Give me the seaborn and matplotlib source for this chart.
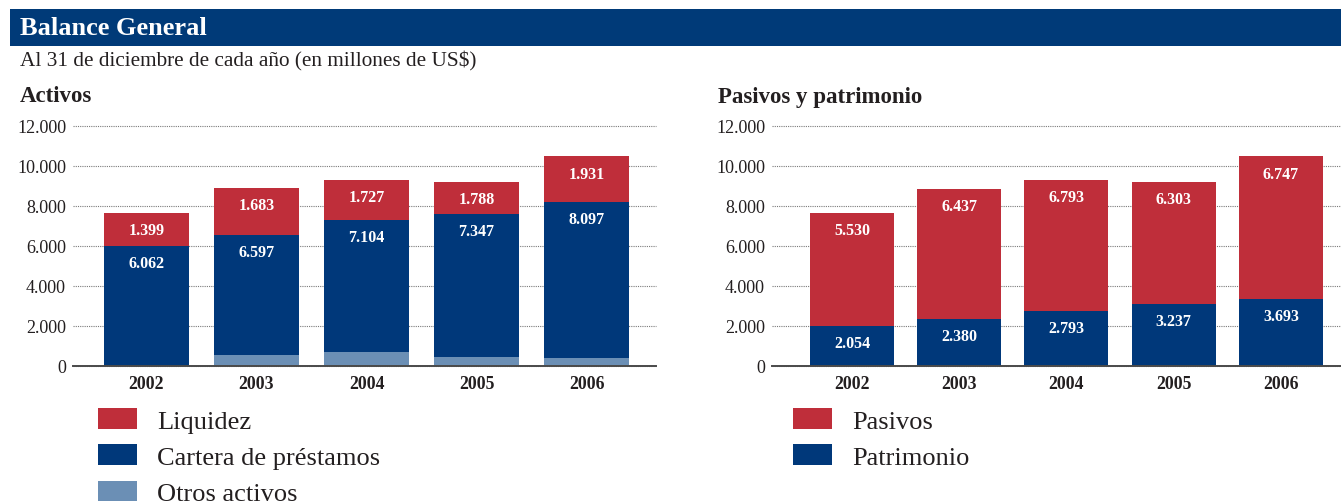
import matplotlib
matplotlib.use("Agg")
import matplotlib.pyplot as plt
from matplotlib.patches import Rectangle, Patch
import seaborn as sns

# ---------------- data ----------------
years = ["2002", "2003", "2004", "2005", "2006"]

# Activos (segment heights as drawn, millones de US$)
otros_activos = [0, 520, 670, 420, 370]
cartera = [5966, 6001, 6607, 7160, 7815]
liquidez = [1664, 2370, 2017, 1613, 2269]
cartera_labels = ["6.062", "6.597", "7.104", "7.347", "8.097"]
liquidez_labels = ["1.399", "1.683", "1.727", "1.788", "1.931"]

# Pasivos y patrimonio
patrimonio = [1983, 2336, 2739, 3092, 3345]
pasivos = [5647, 6504, 6555, 6101, 7109]
patrimonio_labels = ["2.054", "2.380", "2.793", "3.237", "3.693"]
pasivos_labels = ["5.530", "6.437", "6.793", "6.303", "6.747"]

y_ticks = [0, 2000, 4000, 6000, 8000, 10000, 12000]
y_tick_labels = ["0", "2.000", "4.000", "6.000", "8.000", "10.000", "12.000"]

title = "Balance General"
subtitle = "Al 31 de diciembre de cada año (en millones de US$)"
left_title = "Activos"
right_title = "Pasivos y patrimonio"
left_legend = ["Liquidez", "Cartera de préstamos", "Otros activos"]
right_legend = ["Pasivos", "Patrimonio"]

# ---------------- style ----------------
RED = "#BF2E3A"
DARK = "#00387A"
LIGHT = "#6B8FB5"
BANNER = "#003A78"
TXT = "#231F20"

sns.set_theme(style="white")
plt.rcParams["font.family"] = ["Liberation Serif", "DejaVu Serif"]

W, H = 1341, 502
fig = plt.figure(figsize=(W / 100, H / 100), dpi=100)

# banner
fig.patches.append(Rectangle((10 / W, 1 - 47 / H), 1 - 10 / W, 37 / H,
                             transform=fig.transFigure, facecolor=BANNER,
                             edgecolor="none", zorder=0))
fig.text(20 / W, 1 - 28.5 / H, title, color="white", fontsize=19,
         fontweight="bold", va="center", ha="left")
fig.text(20 / W, 1 - 61 / H, subtitle, color=TXT, fontsize=15.3,
         va="center", ha="left")
fig.text(20 / W, 1 - 97 / H, left_title, color=TXT, fontsize=16.5,
         fontweight="bold", va="center", ha="left")
fig.text(718 / W, 1 - 97 / H, right_title, color=TXT, fontsize=16.5,
         fontweight="bold", va="center", ha="left")

y0 = 366.5
ytop = 126.5
ax1 = fig.add_axes([73 / W, (H - y0) / H, (656 - 73) / W, (y0 - ytop) / H])
ax2 = fig.add_axes([772 / W, (H - y0) / H, (W - 772) / W, (y0 - ytop) / H])


def cum(*arrs):
    out = []
    run = [0] * len(arrs[0])
    for a in arrs:
        run = [r + v for r, v in zip(run, a)]
        out.append(run)
    return out


def style_axis(ax, xlim):
    ax.set_ylim(0, 12000)
    ax.set_xlim(*xlim)
    ax.set_yticks(y_ticks)
    ax.set_yticklabels(y_tick_labels)
    ax.set_xlabel("")
    ax.set_ylabel("")
    for s in ["top", "left", "right"]:
        ax.spines[s].set_visible(False)
    ax.spines["bottom"].set_color("#4a4a4a")
    ax.spines["bottom"].set_linewidth(1.4)
    ax.spines["bottom"].set_zorder(5)
    ax.set_axisbelow(True)
    ax.yaxis.grid(True, linestyle=(0, (1, 1)), color="#7a7a7a", linewidth=0.8)
    for gl in ax.get_ygridlines():
        gl.set_clip_on(False)
    ax.tick_params(axis="y", length=0, pad=5, labelsize=13, labelcolor=TXT)
    ax.tick_params(axis="x", length=0, pad=7, labelsize=12.8, labelcolor=TXT)
    for t in ax.get_xticklabels():
        t.set_fontweight("bold")
    ax.patch.set_alpha(0)


def label(ax, tops, texts):
    for i, (t, s) in enumerate(zip(tops, texts)):
        ax.annotate(s, (i, t), xytext=(0, -12.3), textcoords="offset points",
                    ha="center", va="center", color="white", fontsize=11.5,
                    fontweight="bold", zorder=6)


# left chart: stacked by overdrawing cumulative totals
c_otros, c_cart, c_liq = cum(otros_activos, cartera, liquidez)
for vals, col in [(c_liq, RED), (c_cart, DARK), (c_otros, LIGHT)]:
    sns.barplot(x=years, y=vals, color=col, saturation=1, width=0.767,
                edgecolor="none", linewidth=0, ax=ax1, zorder=3)
style_axis(ax1, (-0.667, 4.63))
label(ax1, c_liq, liquidez_labels)
label(ax1, c_cart, cartera_labels)

# right chart
c_pat, c_pas = cum(patrimonio, pasivos)
for vals, col in [(c_pas, RED), (c_pat, DARK)]:
    sns.barplot(x=years, y=vals, color=col, saturation=1, width=0.783,
                edgecolor="none", linewidth=0, ax=ax2, zorder=3)
style_axis(ax2, (-0.746, 4.56))
label(ax2, c_pas, pasivos_labels)
label(ax2, c_pat, patrimonio_labels)

# legends
fs = 19
leg_kw = dict(loc="upper left", frameon=False, fontsize=fs, borderpad=0,
              borderaxespad=0, handlelength=1.48, handleheight=0.83,
              handletextpad=0.76, labelspacing=0.45, labelcolor=TXT)
h1 = [Patch(facecolor=c, edgecolor="none") for c in [RED, DARK, LIGHT]]
fig.legend(h1, left_legend, bbox_to_anchor=(98 / W, 1 - 409 / H), **leg_kw)
h2 = [Patch(facecolor=c, edgecolor="none") for c in [RED, DARK]]
fig.legend(h2, right_legend, bbox_to_anchor=(793 / W, 1 - 409 / H), **leg_kw)

fig.savefig("out.png", dpi=100)
